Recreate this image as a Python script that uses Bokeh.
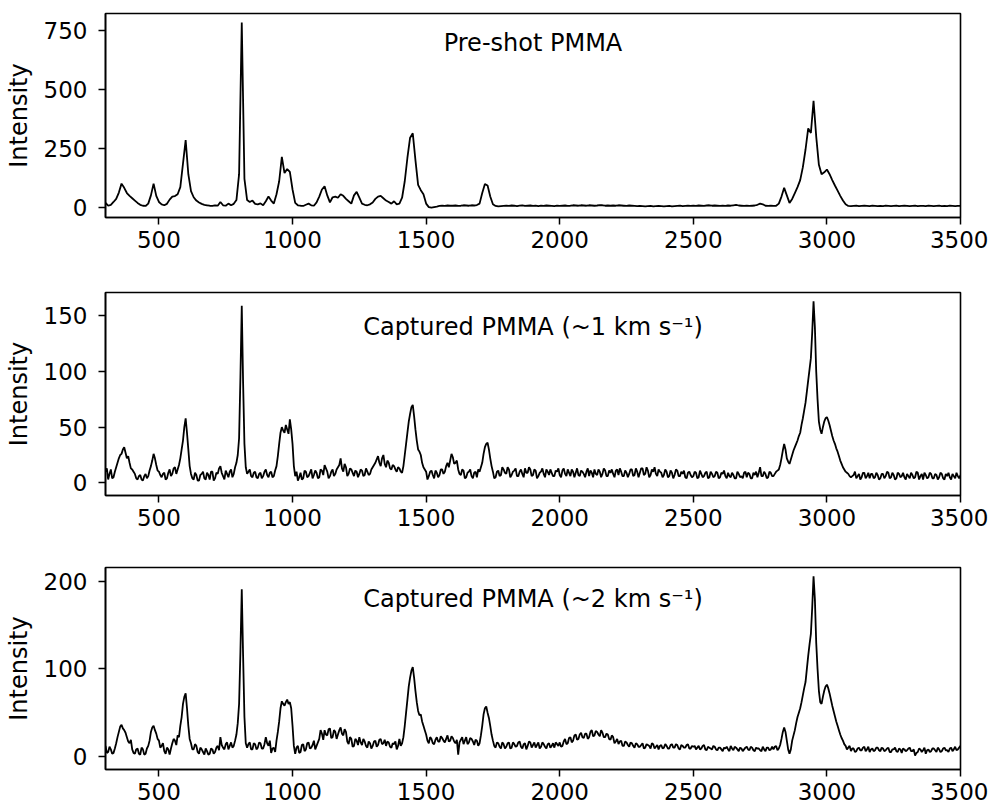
from bokeh.plotting import figure
from bokeh.layouts import column
from bokeh.models import Range1d, FixedTicker, Label
from bokeh.embed import file_html
from bokeh.resources import INLINE

# Raman shift sampling (cm^-1): main grid every 10, half-step grid for the noisy spectra
wavenumber = list(range(300, 3501, 10))
wavenumber_fine = list(range(300, 3501, 5))

# Pre-shot PMMA intensity (one row = 100 cm^-1, starting at 300)
preshot = [
    18, 6, 10, 22, 35, 62, 100, 82, 60, 48,
    38, 28, 18, 10, 6, 5, 15, 50, 100, 48,
    22, 12, 8, 14, 32, 45, 47, 55, 85, 185,
    285, 140, 68, 42, 28, 20, 14, 10, 8, 6,
    5, 8, 6, 22, 8, 6, 15, 8, 14, 30,
    140, 785, 120, 30, 22, 28, 14, 12, 16, 8,
    25, 45, 28, 15, 55, 110, 214, 145, 162, 150,
    75, 18, 8, 6, 5, 10, 15, 8, 6, 20,
    45, 75, 89, 50, 20, 42, 45, 40, 55, 48,
    35, 25, 15, 50, 65, 40, 15, 10, 8, 12,
    20, 35, 45, 48, 38, 28, 22, 15, 25, 12,
    15, 40, 110, 210, 295, 314, 200, 95, 72, 55,
    15, 0, -2, 0, 2, 5, 6, 5, 7, 6,
    6, 7, 5, 6, 8, 7, 6, 8, 7, 9,
    15, 60, 98, 92, 45, 12, 5, 3, 4, 5,
    6, 5, 7, 6, 4, 6, 8, 5, 6, 7,
    5, 6, 4, 6, 5, 7, 6, 5, 4, 6,
    5, 6, 7, 5, 6, 8, 7, 6, 8, 7,
    6, 8, 7, 6, 7, 9, 8, 6, 7, 6,
    7, 6, 8, 7, 6, 5, 7, 6, 5, 4,
    5, 4, 3, 4, 5, 3, 4, 5, 4, 3,
    4, 5, 3, 4, 5, 6, 4, 5, 6, 5,
    6, 5, 7, 6, 5, 7, 8, 6, 7, 6,
    5, 6, 5, 7, 6, 8, 10, 7, 6, 5,
    6, 5, 6, 7, 10, 15, 12, 6, 5, 6,
    5, 6, 15, 45, 82, 50, 18, 35, 60, 85,
    115, 170, 245, 335, 315, 452, 300, 180, 140, 148,
    160, 140, 115, 92, 70, 48, 28, 12, 5, 4,
    5, 6, 4, 5, 6, 5, 4, 6, 5, 4,
    5, 4, 6, 5, 4, 5, 6, 4, 5, 6,
    5, 4, 5, 6, 4, 5, 5, 4, 6, 5,
    4, 5, 6, 4, 5, 4, 6, 5, 4, 5,
    5,
]

# Captured PMMA (~1 km/s), values at 300, 310, ... 3500
captured_1 = [
    10, 3, 12, 5, 14, 22, 26, 32, 22, 18,
    12, 8, 3, 7, 2, 8, 6, 15, 26, 16,
    10, 5, 9, 4, 12, 8, 14, 12, 22, 38,
    58, 30, 8, 3, 7, 2, 8, 4, 9, 3,
    10, 4, 8, 15, 6, 11, 5, 12, 8, 18,
    40, 159, 35, 8, 12, 5, 10, 4, 9, 6,
    12, 5, 10, 6, 15, 35, 50, 45, 48, 57,
    35, 6, 2, 9, 4, 10, 6, 12, 7, 9,
    5, 11, 16, 10, 6, 12, 8, 14, 22, 10,
    14, 8, 12, 6, 10, 8, 11, 7, 10, 8,
    14, 18, 24, 15, 25, 14, 18, 12, 15, 10,
    13, 9, 25, 45, 62, 70, 48, 30, 25, 14,
    10, 6, 11, 4, 9, 7, 12, 10, 18, 20,
    23, 18, 12, 7, 11, 5, 10, 6, 9, 5,
    10, 18, 32, 36, 22, 10, 5, 11, 7, 12,
    8, 12, 7, 11, 6, 10, 8, 13, 9, 12,
    7, 11, 6, 10, 8, 12, 7, 9, 6, 10,
    7, 11, 8, 12, 6, 10, 9, 7, 11, 8,
    10, 6, 9, 12, 7, 10, 8, 11, 6, 9,
    8, 11, 7, 10, 6, 9, 8, 12, 7, 10,
    9, 13, 8, 11, 7, 10, 8, 12, 9, 7,
    10, 6, 9, 7, 11, 6, 8, 5, 9, 7,
    6, 9, 5, 8, 6, 10, 5, 8, 6, 9,
    5, 8, 6, 9, 5, 7, 4, 8, 6, 9,
    5, 8, 4, 7, 5, 14, 6, 8, 5, 9,
    6, 10, 12, 22, 35, 22, 17, 25, 32, 38,
    45, 58, 72, 92, 112, 163, 100, 55, 44, 55,
    59, 52, 42, 35, 28, 20, 14, 10, 8, 5,
    7, 4, 8, 5, 9, 6, 4, 8, 5, 7,
    4, 8, 6, 9, 5, 7, 4, 8, 6, 5,
    8, 4, 7, 5, 9, 6, 3, 7, 5, 8,
    4, 7, 5, 8, 3, 6, 5, 8, 4, 6,
    7,
]
# Captured PMMA (~1 km/s), values at 305, 315, ... 3495
captured_1_half = [
    13, 8, 4, 10, 18, 25, 30, 27, 24, 13,
    10, 4, 6, 3, 6, 4, 11, 20, 22, 11,
    7, 8, 3, 9, 6, 13, 8, 16, 30, 50,
    45, 15, 4, 9, 2, 7, 10, 3, 7, 10,
    2, 9, 13, 9, 3, 8, 10, 5, 14, 25,
    95, 90, 14, 10, 6, 9, 5, 8, 4, 10,
    7, 9, 5, 11, 24, 45, 47, 52, 44, 48,
    15, 10, 5, 3, 11, 5, 9, 4, 11, 4,
    12, 7, 13, 4, 10, 6, 12, 16, 13, 17,
    6, 13, 9, 11, 5, 12, 6, 13, 7, 12,
    16, 21, 18, 22, 17, 20, 13, 16, 12, 14,
    10, 15, 35, 55, 68, 60, 38, 28, 18, 12,
    3, 10, 7, 11, 5, 12, 8, 15, 14, 26,
    17, 20, 8, 12, 4, 9, 12, 4, 10, 12,
    14, 26, 35, 30, 15, 4, 10, 6, 14, 9,
    14, 5, 10, 13, 6, 12, 5, 9, 14, 6,
    12, 4, 9, 13, 5, 10, 12, 6, 11, 13,
    5, 13, 6, 9, 12, 5, 13, 6, 10, 5,
    13, 11, 5, 8, 12, 5, 13, 6, 11, 12,
    5, 12, 13, 6, 11, 5, 12, 6, 13, 5,
    13, 7, 14, 5, 12, 14, 6, 10, 5, 12,
    5, 11, 4, 12, 6, 10, 11, 4, 10, 5,
    10, 4, 11, 5, 9, 4, 10, 5, 10, 4,
    9, 11, 4, 6, 9, 4, 10, 5, 4, 10,
    9, 4, 9, 10, 9, 6, 10, 4, 10, 6,
    8, 11, 16, 29, 30, 19, 21, 29, 35, 42,
    52, 65, 82, 102, 135, 140, 75, 48, 50, 58,
    56, 47, 38, 31, 24, 17, 12, 9, 6, 6,
    10, 6, 3, 9, 4, 9, 8, 4, 9, 3,
    8, 4, 10, 4, 9, 3, 9, 5, 9, 3,
    6, 9, 4, 10, 3, 8, 9, 4, 9, 4,
    8, 3, 9, 4, 8, 9, 3, 6, 9, 4,
]

# Captured PMMA (~2 km/s), values at 300, 310, ... 3500
captured_2 = [
    12, 5, 8, 4, 15, 28, 36, 30, 22, 15,
    8, 3, 9, 2, 8, 3, 12, 28, 35, 26,
    18, 12, 6, 10, 2, 15, 18, 24, 35, 60,
    72, 35, 15, 8, 12, 3, 8, 2, 6, 3,
    8, 5, 12, 22, 10, 14, 8, 16, 12, 25,
    60, 191, 45, 10, 16, 8, 14, 10, 15, 9,
    22, 12, 4, 10, 18, 40, 63, 58, 65, 62,
    35, 3, 12, 5, 14, 8, 16, 10, 18, 12,
    20, 26, 30, 24, 32, 22, 28, 25, 33, 24,
    28, 14, 20, 12, 18, 22, 13, 17, 10, 15,
    12, 18, 13, 20, 15, 12, 16, 10, 14, 8,
    20, 15, 35, 65, 90, 102, 75, 52, 48, 35,
    25, 15, 20, 14, 22, 17, 21, 16, 24, 18,
    21, 15, 2, 19, 14, 22, 16, 20, 13, 18,
    15, 35, 55, 50, 35, 18, 10, 15, 9, 14,
    11, 16, 10, 14, 12, 17, 9, 15, 12, 16,
    13, 10, 16, 11, 14, 9, 15, 12, 10, 14,
    16, 12, 20, 15, 22, 18, 25, 20, 27, 21,
    26, 22, 30, 24, 28, 23, 27, 22, 25, 19,
    22, 17, 14, 18, 12, 16, 11, 15, 10, 14,
    11, 15, 10, 13, 9, 14, 11, 8, 13, 10,
    12, 9, 14, 10, 13, 8, 12, 10, 14, 9,
    11, 8, 12, 9, 13, 7, 10, 8, 11, 7,
    10, 6, 9, 8, 12, 7, 10, 6, 9, 8,
    11, 7, 10, 6, 9, 7, 11, 6, 10, 8,
    8, 12, 9, 20, 33, 18, 3, 18, 30, 45,
    55, 70, 85, 115, 140, 206, 130, 75, 60, 75,
    82, 72, 58, 46, 35, 25, 18, 12, 10, 6,
    9, 6, 10, 7, 11, 8, 5, 9, 7, 10,
    6, 9, 7, 10, 5, 8, 6, 9, 4, 8,
    7, 10, 6, 1, 5, 8, 7, 3, 8, 6,
    9, 5, 8, 6, 10, 7, 9, 6, 11, 8,
    12,
]
# Captured PMMA (~2 km/s), values at 305, 315, ... 3495
captured_2_half = [
    4, 11, 3, 9, 22, 34, 32, 27, 17, 19,
    4, 8, 3, 10, 2, 9, 18, 33, 30, 20,
    10, 15, 3, 8, 9, 20, 13, 22, 45, 68,
    55, 20, 8, 14, 5, 10, 5, 9, 2, 9,
    3, 10, 7, 13, 8, 16, 12, 10, 18, 38,
    120, 115, 15, 14, 8, 15, 8, 16, 9, 14,
    15, 18, 9, 5, 28, 55, 60, 62, 60, 55,
    12, 10, 4, 13, 6, 15, 9, 13, 8, 16,
    30, 19, 25, 31, 21, 30, 20, 30, 26, 31,
    17, 22, 11, 20, 13, 16, 20, 12, 17, 9,
    17, 11, 19, 14, 19, 17, 11, 15, 17, 12,
    12, 22, 50, 80, 98, 90, 62, 47, 40, 30,
    18, 22, 15, 19, 17, 23, 18, 20, 17, 23,
    17, 19, 16, 22, 18, 14, 21, 17, 19, 12,
    24, 48, 57, 44, 25, 12, 16, 11, 16, 9,
    15, 9, 16, 11, 16, 11, 14, 8, 17, 10,
    16, 13, 9, 16, 11, 14, 10, 15, 16, 12,
    11, 17, 14, 21, 16, 24, 19, 25, 22, 26,
    20, 28, 23, 29, 25, 30, 22, 26, 20, 24,
    15, 20, 17, 12, 17, 13, 16, 12, 15, 11,
    13, 9, 14, 12, 15, 9, 13, 12, 9, 14,
    9, 13, 10, 14, 9, 13, 10, 13, 9, 12,
    12, 10, 8, 12, 8, 11, 9, 12, 8, 10,
    8, 10, 11, 6, 9, 11, 8, 10, 6, 10,
    8, 11, 7, 10, 9, 6, 8, 10, 7, 11,
    11, 7, 13, 28, 28, 8, 8, 24, 38, 50,
    62, 78, 100, 128, 170, 180, 100, 62, 68, 80,
    78, 65, 52, 40, 30, 21, 14, 8, 12, 9,
    5, 9, 7, 10, 6, 11, 8, 6, 10, 7,
    10, 6, 9, 5, 8, 10, 5, 8, 9, 6,
    9, 6, 8, 4, 9, 5, 10, 7, 5, 9,
    7, 10, 5, 9, 7, 5, 10, 8, 7, 10,
]


def interleave(main, half):
    out = []
    for i, v in enumerate(main):
        out.append(v)
        if i < len(half):
            out.append(half[i])
    return out


series_x = [wavenumber, wavenumber_fine, wavenumber_fine]
series_y = [preshot, interleave(captured_1, captured_1_half), interleave(captured_2, captured_2_half)]
titles = ["Pre-shot PMMA", "Captured PMMA (~1 km s\u207b\u00b9)", "Captured PMMA (~2 km s\u207b\u00b9)"]
x_ticks = [500, 1000, 1500, 2000, 2500, 3000, 3500]
y_ticks = [[0, 250, 500, 750], [0, 50, 100, 150], [0, 100, 200]]
x_limits = (300, 3500)
y_limits = [(-44, 823), (-11.4, 171), (-15, 216)]

# layout: (figure height, top border, bottom border, label baseline fraction from top)
layout = [(278, 13, 61, 0.147), (277, 14, 60, 0.171), (253, 12, 39, 0.158)]

FONT = "DejaVu Sans"
plots = []
for xs, ys, title, yt, yl, (h, bt, bb, frac) in zip(series_x, series_y, titles, y_ticks, y_limits, layout):
    p = figure(width=988, height=h, x_range=Range1d(*x_limits), y_range=Range1d(*yl),
               output_backend="svg", toolbar_location=None,
               min_border_left=105, min_border_right=28, min_border_top=bt, min_border_bottom=bb)
    p.line(xs, ys, line_color="black", line_width=1.8)
    p.xgrid.visible = False
    p.ygrid.visible = False
    p.outline_line_color = "black"
    p.outline_line_width = 1.6
    p.outline_line_alpha = 1.0
    p.xaxis.ticker = FixedTicker(ticks=x_ticks)
    p.yaxis.ticker = FixedTicker(ticks=yt)
    p.yaxis.axis_label = "Intensity"
    for ax in (p.xaxis[0], p.yaxis[0]):
        ax.axis_line_color = "black"
        ax.axis_line_width = 1.6
        ax.major_tick_line_color = "black"
        ax.major_tick_line_width = 1.5
        ax.major_tick_in = 0
        ax.major_tick_out = 7
        ax.minor_tick_line_color = None
        ax.major_label_text_font = FONT
        ax.major_label_text_font_size = "23px"
        ax.major_label_text_color = "black"
        ax.axis_label_text_font = FONT
        ax.axis_label_text_font_size = "24px"
        ax.axis_label_text_font_style = "normal"
        ax.axis_label_text_color = "black"
    p.xaxis.major_label_standoff = 6
    p.yaxis.major_label_standoff = 11
    p.yaxis.axis_label_standoff = 8
    y_text = yl[1] - frac * (yl[1] - yl[0])
    p.add_layout(Label(x=(x_limits[0] + x_limits[1]) / 2, y=y_text, text=title,
                       text_align="center", text_baseline="alphabetic",
                       text_font=FONT, text_font_size="24px", text_color="black"))
    plots.append(p)

layout_col = column(*plots, spacing=0)
open("out.html", "w").write(file_html(layout_col, INLINE))
